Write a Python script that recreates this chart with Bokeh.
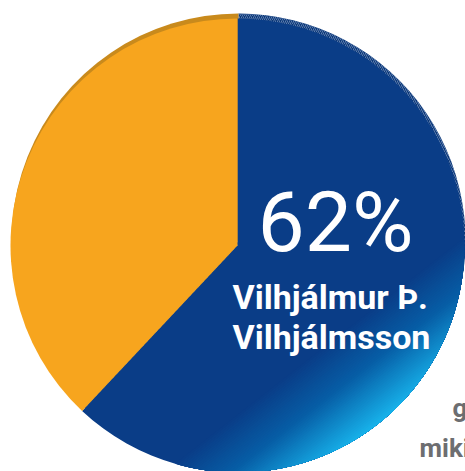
import numpy as np
from bokeh.plotting import figure
from bokeh.models import Range1d
from bokeh.core.properties import value
from bokeh.embed import file_html
from bokeh.resources import INLINE

# ---- data ----
candidates = ["Vilhjálmur Þ. Vilhjálmsson", "Aðrir"]
shares = [62, 38]
share_label = "62%"
name_lines = ["Vilhjálmur Þ.", "Vilhjálmsson"]
side_words = ["g", "miki"]

face_colors = ["#0a3d87", "#f7a51e"]
rim_colors = ["#0b3778", "#c98a1c"]

W, H = 465, 471
p = figure(width=W, height=H, x_range=Range1d(0, W), y_range=Range1d(-H, 0),
           output_backend="svg", toolbar_location=None, min_border=0)
p.axis.visible = False
p.grid.visible = False
p.outline_line_color = None
p.background_fill_color = "white"
p.border_fill_color = "white"

cx, cy, r = 237, -245, 227
fr = np.array(shares, dtype=float) / sum(shares)
top = np.pi / 2
starts = [top - fr[0] * 2 * np.pi, top]
ends = [top, top + fr[1] * 2 * np.pi]

# rim (back disc, slightly shifted up)
p.wedge(x=cx + 1, y=cy + 5, radius=r, start_angle=starts[0], end_angle=ends[0],
        fill_color=rim_colors[0], line_color=None,
        hatch_pattern="/", hatch_color="#9fb6d8", hatch_alpha=0.55, hatch_scale=4, hatch_weight=1)
p.wedge(x=cx + 1, y=cy + 5, radius=r, start_angle=starts[1], end_angle=ends[1],
        fill_color=rim_colors[1], line_color=None)

# faces
for i in range(2):
    p.wedge(x=cx, y=cy, radius=r, start_angle=starts[i], end_angle=ends[i],
            fill_color=face_colors[i], line_color=None)

# gradient toward lower right (stacked circular segments)
def hex2rgb(h):
    h = h.lstrip("#")
    return np.array([int(h[i:i + 2], 16) for i in (0, 2, 4)], dtype=float)

c0, c1, c2 = hex2rgb("#0a3d87"), hex2rgb("#075ea6"), hex2rgb("#18b4ec")
N = 50
t0 = 0.58
phi_u = -np.deg2rad(52)
xs, ys, cols = [], [], []
for k in range(1, N):
    t = k / N
    a = r * (t0 + (1 - t0) * t)
    half = np.arccos(min(a / r, 1.0))
    ph = np.linspace(phi_u - half, phi_u + half, 60)
    xs.append(list(cx + r * np.cos(ph)))
    ys.append(list(cy + r * np.sin(ph)))
    if t < 0.45:
        c = c0 + (c1 - c0) * (t / 0.45)
    else:
        c = c1 + (c2 - c1) * ((t - 0.45) / 0.55)
    cols.append("#%02x%02x%02x" % tuple(int(round(v)) for v in c))
p.patches(xs=xs, ys=ys, fill_color=cols, line_color=None)

p.text(x=[335], y=[-222], text=[share_label], text_color="white",
       text_font=value("Roboto"),
       text_font_size="84px", text_align="center", text_baseline="alphabetic")
p.text(x=[232, 232], y=[-296, -336], text=name_lines, text_color="white",
       text_font=value("Roboto"),
       text_font_size="34px", text_font_style="bold", text_align="left", text_baseline="alphabetic")
p.text(x=[452, 419], y=[-407, -447], text=side_words, text_color="#6d6e71",
       text_font=value("Roboto"),
       text_font_size="26px", text_font_style="bold", text_align="left", text_baseline="alphabetic")

open("out.html", "w").write(file_html(p, INLINE))
